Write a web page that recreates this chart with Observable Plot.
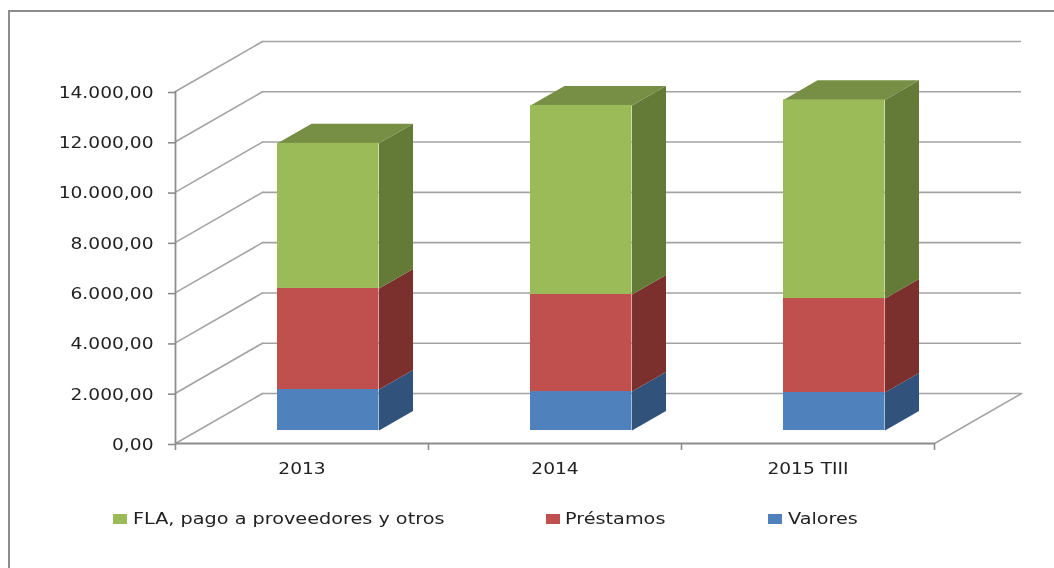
<!DOCTYPE html>
<html><head><meta charset="utf-8">
<script src="https://cdn.jsdelivr.net/npm/d3@7"></script>
<script src="https://cdn.jsdelivr.net/npm/@observablehq/plot@0.6"></script>
<style>
html,body{margin:0;padding:0;background:#fff;width:1054px;height:568px;overflow:hidden}
body{position:relative;font-family:"DejaVu Sans",sans-serif;color:#222}
#frame{position:absolute;left:8px;top:10px;right:0;bottom:0;border-left:2.5px solid #8c8c8c;border-top:2.5px solid #8c8c8c;box-sizing:border-box}
#chart{position:absolute;left:0;top:0}
#chart svg{filter:blur(.35px)}
.lg{position:absolute;top:509px;font-size:16.5px;line-height:20px;white-space:nowrap;filter:blur(.35px);transform:scaleX(1.165);transform-origin:left center}
.sw{position:absolute;top:514px;width:13.5px;height:10px}
</style></head>
<body>
<div id="frame"></div>
<div id="chart"></div>
<script>
const categories = ["2013", "2014", "2015 TIII"];
const seriesNames = ["Valores", "Préstamos", "FLA, pago a proveedores y otros"];
const valores = [1630, 1550, 1510];
const prestamos = [4020, 3860, 3740];
const fla = [5770, 7520, 7900];
const yTicks = [0, 2000, 4000, 6000, 8000, 10000, 12000, 14000];

const frontColors = ["#4F81BD", "#C0504D", "#9BBB59"];
const sideColors = ["#31527A", "#7B302E", "#647A37"];
const topColor = "#778F45";
const gridColor = "#a3a3a3";

// Oblique projection expressed in scale units
const wallDx = 87 / 253, wallDy = 50 / 0.02514;        // depth of the side wall and floor
const barLeft = 0.4032, barWidth = 0.4012;             // front face inside a category band
const barLift = 13 / 0.02514;                          // front face sits forward of the wall
const barDx = 34 / 253, barDy = 19.5 / 0.02514;        // bar depth

const fmt = d3.formatLocale({decimal: ",", thousands: ".", grouping: [3], currency: ["", ""]}).format(",.2f");

const series = [valores, prestamos, fla];
const fronts = [], polys = [];
categories.forEach((c, i) => {
  let base = 0;
  const x1 = i + barLeft, x2 = x1 + barWidth;
  series.forEach((s, k) => {
    const lo = base + barLift, hi = base + s[i] + barLift;
    fronts.push({x1, x2, y1: lo, y2: hi, fill: frontColors[k]});
    const id = `${i}-${k}`;
    [[x2, lo], [x2 + barDx, lo + barDy], [x2 + barDx, hi + barDy], [x2, hi]]
      .forEach(([x, y]) => polys.push({id: "s" + id, x, y, fill: sideColors[k]}));
    if (k === series.length - 1) {
      [[x1, hi], [x2, hi], [x2 + barDx, hi + barDy], [x1 + barDx, hi + barDy]]
        .forEach(([x, y]) => polys.push({id: "t" + id, x, y, fill: topColor}));
    }
    base += s[i];
  });
});

const diagonals = yTicks.flatMap(v => [{v, x: 0, y: v}, {v, x: wallDx, y: v + wallDy}]);
const floorEdge = [{x: 3, y: 0}, {x: 3 + wallDx, y: wallDy}];
const backGrid = yTicks.map(v => ({x1: wallDx, x2: 3 + wallDx, y: v + wallDy}));

const plot = Plot.plot({
  width: 1054, height: 490,
  marginLeft: 175, marginRight: 33, marginTop: 41, marginBottom: 47,
  x: {domain: [0, 3 + wallDx], range: [175, 1021]},
  y: {domain: [0, 14000 + wallDy], range: [443, 41]},
  color: {type: "identity"},
  style: {fontFamily: "DejaVu Sans", background: "transparent", overflow: "visible"},
  marks: [
    Plot.ruleY(backGrid, {x1: "x1", x2: "x2", y: "y", stroke: gridColor, strokeWidth: 1.6}),
    Plot.line(diagonals, {x: "x", y: "y", z: "v", stroke: gridColor, strokeWidth: 1.6}),
    Plot.line(floorEdge, {x: "x", y: "y", stroke: gridColor, strokeWidth: 1.6}),
    Plot.ruleX([0], {y1: 0, y2: 14000, stroke: "#8c8c8c", strokeWidth: 1.8}),
    Plot.ruleY([0], {x1: 0, x2: 3, stroke: "#8c8c8c", strokeWidth: 1.8}),
    Plot.line(polys, {x: "x", y: "y", z: "id", fill: "fill", stroke: "none"}),
    Plot.rect(fronts, {x1: "x1", x2: "x2", y1: "y1", y2: "y2", fill: "fill"}),
    Plot.axisY({ticks: yTicks, tickFormat: fmt, tickSize: 7, tickPadding: 15, stroke: "#8c8c8c", strokeWidth: 1.6,
                fontSize: 16.5, fill: "#222", label: null, dy: 1}),
    Plot.axisX({ticks: [0, 1, 2, 3], tickFormat: () => "", tickSize: 7, stroke: "#8c8c8c", strokeWidth: 1.6, label: null}),
    Plot.axisX({ticks: [0.5, 1.5, 2.5], tickFormat: d => categories[Math.floor(d)], tickSize: 0, tickPadding: 18,
                fontSize: 16.5, fill: "#222", label: null, dy: 1})
  ]
});
// The reference's glyphs are stretched horizontally: widen each tick label about its anchor.
plot.querySelectorAll('[aria-label="y-axis tick label"] text, [aria-label="x-axis tick label"] text').forEach(t => {
  const tr = t.getAttribute("transform") || "";
  t.setAttribute("transform", tr + " scale(1.13,1)");
});
document.getElementById("chart").appendChild(plot);

// Legend, in the reference's order
const legend = [
  {name: seriesNames[2], color: frontColors[2], sw: 113, tx: 133},
  {name: seriesNames[1], color: frontColors[1], sw: 546, tx: 565},
  {name: seriesNames[0], color: frontColors[0], sw: 768, tx: 788}
];
for (const l of legend) {
  const s = document.createElement("div");
  s.className = "sw"; s.style.left = l.sw + "px"; s.style.background = l.color;
  document.body.appendChild(s);
  const t = document.createElement("div");
  t.className = "lg"; t.style.left = l.tx + "px"; t.textContent = l.name;
  document.body.appendChild(t);
}
</script>
</body></html>
